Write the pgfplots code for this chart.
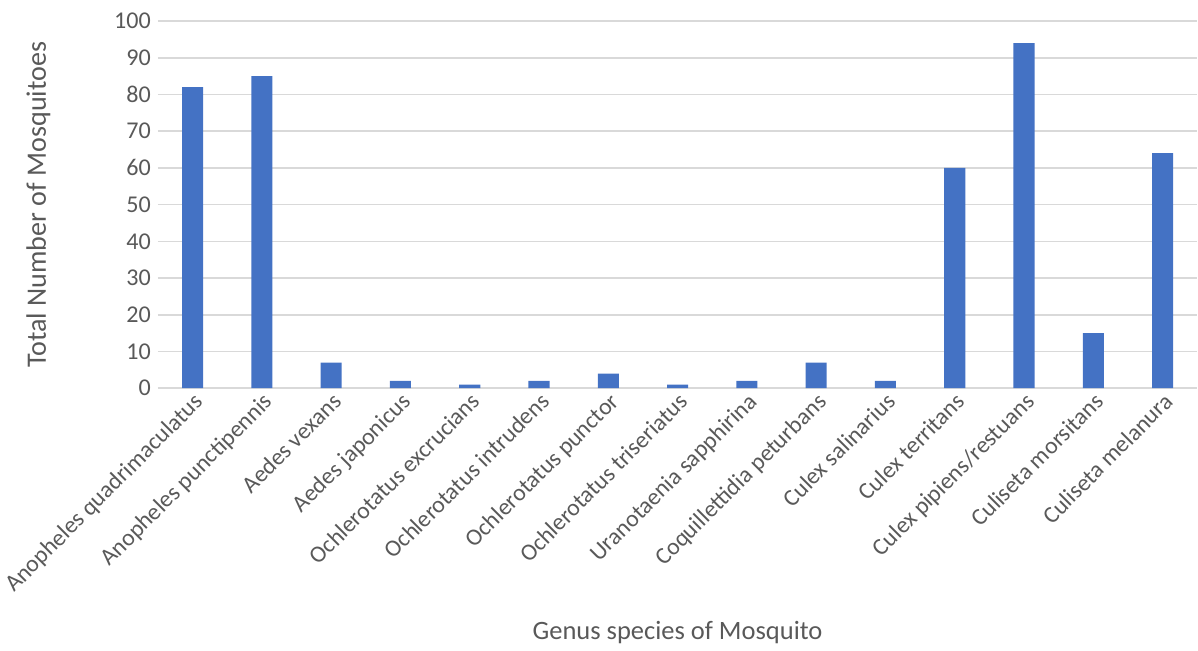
\documentclass[border=0pt]{standalone}
\usepackage{pgfplots}
\pgfplotsset{compat=1.18}
\usepackage{fontspec}
\setmainfont{Carlito}
\definecolor{barblue}{HTML}{4472C4}
\definecolor{gridgray}{HTML}{D9D9D9}
\definecolor{textgray}{HTML}{595959}
\begin{document}
\begin{tikzpicture}
\begin{axis}[
  scale only axis,
  width=518pt, height=183pt,
  xmin=-0.5, xmax=14.5,
  ymin=0, ymax=100,
  ytick={0,10,...,100},
  xtick={0,...,14},
  xticklabels={Anopheles quadrimaculatus, Anopheles punctipennis, Aedes vexans, Aedes japonicus, Ochlerotatus excrucians, Ochlerotatus intrudens, Ochlerotatus punctor, Ochlerotatus triseriatus, Uranotaenia sapphirina, Coquillettidia peturbans, Culex salinarius, Culex territans, Culex pipiens/restuans, Culiseta morsitans, Culiseta melanura},
  x tick label style={rotate=45, anchor=north east, font=\fontsize{11.8}{14}\selectfont, text=textgray, inner sep=1pt},
  y tick label style={font=\fontsize{12}{14}\selectfont, text=textgray},
  /pgf/number format/assume math mode=true,
  major tick length=0pt,
  axis line style={draw=none},
  ymajorgrids,
  grid style={gridgray, line width=0.8pt},
  ylabel={Total Number of Mosquitoes},
  xlabel={Genus species of Mosquito},
  xlabel style={font=\fontsize{13.2}{15}\selectfont, text=textgray, yshift=-8pt},
  ylabel style={font=\fontsize{14}{16}\selectfont, text=textgray},
  ylabel shift=25pt,
]
\addplot[ybar, bar width=10.5pt, fill=barblue, draw=none] coordinates {
(0,82) (1,85) (2,7) (3,2) (4,1) (5,2) (6,4) (7,1) (8,2) (9,7) (10,2) (11,60) (12,94) (13,15) (14,64)
};
\end{axis}
\path ([yshift=10.5pt]current axis.north);
\end{tikzpicture}
\end{document}
